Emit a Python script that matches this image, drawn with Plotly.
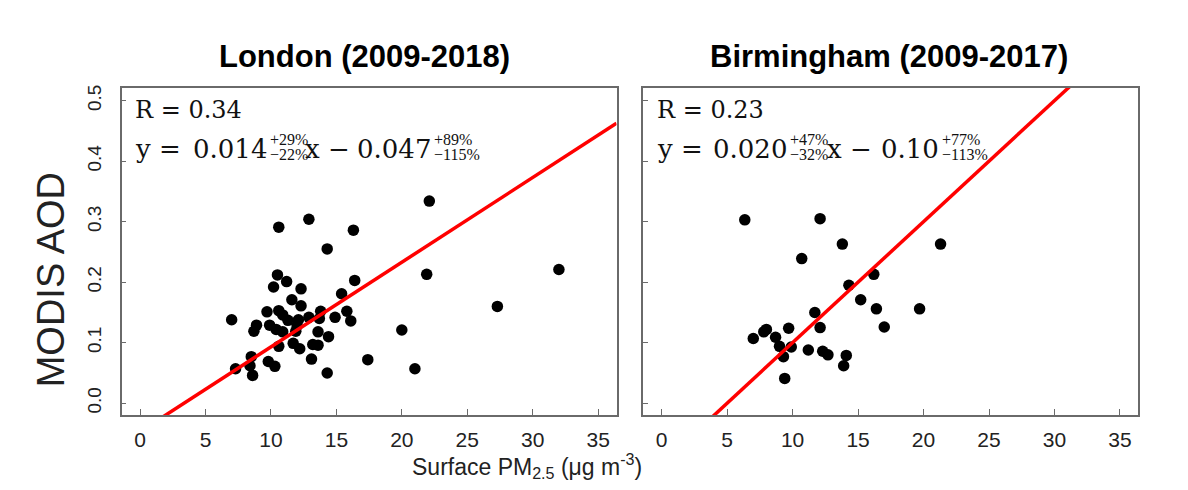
import plotly.graph_objects as go

# ---------------- data ----------------
london_pm = [22.1, 12.9, 10.6, 16.3, 14.3, 32.0, 10.5, 21.9, 11.2, 16.4,
             10.2, 12.3, 15.4, 11.6, 12.3, 27.3, 9.7, 10.6, 15.8, 7.0,
             13.8, 16.1, 14.9, 11.3, 12.1, 12.9, 13.7, 8.9, 9.9, 10.4,
             8.7, 10.9, 11.9, 13.6, 14.4, 20.0, 11.7, 10.6, 13.2, 13.6,
             12.2, 8.5, 13.1, 17.4, 9.8, 10.3, 7.3, 8.4, 8.6, 14.3,
             21.0, 12.0, 10.9]
london_aod = [0.334, 0.304, 0.291, 0.286, 0.255, 0.221, 0.212, 0.213, 0.201, 0.203,
              0.192, 0.189, 0.181, 0.171, 0.161, 0.160, 0.151, 0.153, 0.152, 0.138,
              0.152, 0.136, 0.142, 0.137, 0.138, 0.142, 0.140, 0.129, 0.129, 0.122,
              0.119, 0.118, 0.119, 0.118, 0.110, 0.121, 0.099, 0.094, 0.097, 0.096,
              0.090, 0.077, 0.073, 0.072, 0.069, 0.061, 0.057, 0.062, 0.046, 0.050,
              0.057, 0.128, 0.146]

bham_pm = [6.35, 12.1, 13.8, 21.3, 10.7, 16.2, 14.3, 15.2, 16.4, 19.7,
           11.7, 17.0, 12.1, 9.7, 8.0, 7.8, 7.0, 8.7, 9.0, 9.9,
           11.2, 12.3, 12.7, 14.1, 9.3, 13.9, 9.4]
bham_aod = [0.303, 0.305, 0.263, 0.263, 0.239, 0.213, 0.195, 0.171, 0.156, 0.156,
            0.150, 0.126, 0.125, 0.124, 0.122, 0.118, 0.107, 0.109, 0.094, 0.093,
            0.088, 0.086, 0.080, 0.079, 0.077, 0.062, 0.041]

london_fit = (0.014, -0.047)   # slope, intercept
bham_fit = (0.020, -0.10)

titles = ["London (2009-2018)", "Birmingham (2009-2017)"]
r_texts = ["R = 0.34", "R = 0.23"]
# y =, slope, slope sup, slope sub, "x \u2212", intercept, int sup, int sub
eq_parts = [
    ["y =", "0.014", "+29%", "\u221222%", "x \u2212", "0.047", "+89%", "\u2212115%"],
    ["y =", "0.020", "+47%", "\u221232%", "x \u2212", "0.10", "+77%", "\u2212113%"],
]

x_ticks = [0, 5, 10, 15, 20, 25, 30, 35]
y_ticks = [0.0, 0.1, 0.2, 0.3, 0.4, 0.5]
y_ticktext = ["0.0", "0.1", "0.2", "0.3", "0.4", "0.5"]
x_range = [-1.4, 36.4]
y_range = [-0.0202, 0.5217]

# ---------------- figure ----------------
OFF = 8            # page body margin
W, H = 1180, 482


def px(x):
    return (x - OFF) / W


def py(y):
    return 1 - (y - OFF) / H


fig = go.Figure()

for i, (xs, ys, fit) in enumerate([(london_pm, london_aod, london_fit),
                                   (bham_pm, bham_aod, bham_fit)]):
    xa = "x" if i == 0 else "x2"
    ya = "y" if i == 0 else "y2"
    fig.add_trace(go.Scatter(x=xs, y=ys, mode="markers", xaxis=xa, yaxis=ya,
                             marker=dict(color="black", size=11.5, line=dict(width=0)),
                             showlegend=False, hoverinfo="x+y"))
    lx = [x_range[0], x_range[1]]
    ly = [fit[0] * v + fit[1] for v in lx]
    fig.add_trace(go.Scatter(x=lx, y=ly, mode="lines", xaxis=xa, yaxis=ya,
                             line=dict(color="#ff0000", width=3.5),
                             showlegend=False, hoverinfo="skip"))

tick_font = dict(family="Liberation Sans Narrow, Arial Narrow, Liberation Sans, Arial",
                 size=21, color="#222222")
axis_common = dict(showline=True, mirror=True, linecolor="#6a6a6a", linewidth=1.5,
                   showgrid=False, zeroline=False, ticks="inside",
                   tickcolor="#6a6a6a", tickwidth=1.2)

fig.update_layout(
    width=W, height=H,
    margin=dict(l=0, r=0, t=0, b=0),
    paper_bgcolor="white", plot_bgcolor="white",
    xaxis=dict(domain=[px(121.7), px(616.5)], range=x_range, tickvals=x_ticks,
               ticklen=7, tickfont=tick_font, ticklabelstandoff=5, anchor="y",
               **axis_common),
    xaxis2=dict(domain=[px(643.3), px(1138.3)], range=x_range, tickvals=x_ticks,
                ticklen=7, tickfont=tick_font, ticklabelstandoff=5, anchor="y2",
                **axis_common),
    yaxis=dict(domain=[py(415), py(85)], range=y_range, tickvals=y_ticks,
               ticktext=y_ticktext, ticklen=5, tickangle=-90,
               tickfont=dict(family="Liberation Sans, Arial", size=19, color="#222222"),
               ticklabelstandoff=11, anchor="x", **axis_common),
    yaxis2=dict(domain=[py(415), py(85)], range=y_range, tickvals=y_ticks,
                ticklen=5, showticklabels=False, anchor="x2", **axis_common),
)

ann = []


def add(text, x, y, font, xanchor="left", angle=0):
    ann.append(dict(text=text, x=px(x), y=py(y), xref="paper", yref="paper",
                    xanchor=xanchor, yanchor="middle", showarrow=False,
                    textangle=angle, font=font))


title_font = dict(family="Liberation Sans, Arial", size=31, color="black")
for t, cx in zip(titles, [364, 889]):
    add("<b>" + t + "</b>", cx, 54, title_font, xanchor="center")

# axis titles
add("MODIS AOD", 51, 279, dict(family="Liberation Sans, Arial", size=38, color="#222222"),
    xanchor="center", angle=-90)
add("Surface PM<sub>2.5</sub> (\u03bcg m<sup>-3</sup>)", 527, 466,
    dict(family="Liberation Sans Narrow, Arial Narrow, Liberation Sans, Arial",
         size=23, color="#222222"), xanchor="center")

# equations
r_font = dict(family="DejaVu Serif, Liberation Serif, serif", size=24, color="#111111")
eq_font = dict(family="DejaVu Serif, Liberation Serif, serif", size=26, color="#111111")
small_font = dict(family="Liberation Serif, DejaVu Serif, serif", size=16, color="#111111")
# pixel anchors per panel: start, slope right end, x-part start, intercept right end
pos = [[133, 268, 303, 432], [655, 788, 825, 940]]
for i in range(2):
    p = pos[i]
    s = eq_parts[i]
    add(r_texts[i], p[0], 108, r_font)
    add(s[0], p[0], 147, eq_font)
    add(s[1], p[1] + 1, 147, eq_font, xanchor="right")
    add(s[2], p[1], 137, small_font)
    add(s[3], p[1], 152, small_font)
    add(s[4], p[2], 147, eq_font)
    add(s[5], p[3] + 1, 147, eq_font, xanchor="right")
    add(s[6], p[3], 137, small_font)
    add(s[7], p[3], 152, small_font)

fig.update_layout(annotations=ann)
fig.write_html("out.html")
